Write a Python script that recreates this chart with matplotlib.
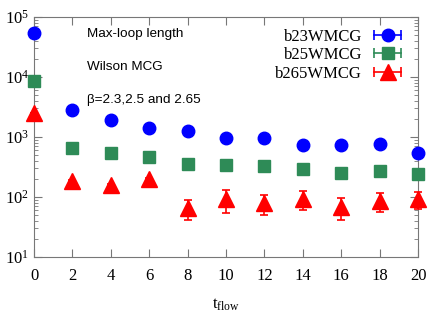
import numpy as np
import matplotlib
matplotlib.use('Agg')
import matplotlib.pyplot as plt
from matplotlib.lines import Line2D
from matplotlib.legend_handler import HandlerLine2D

plt.rcParams['font.family'] = 'Liberation Serif'
plt.rcParams['mathtext.fontset'] = 'custom'
plt.rcParams['mathtext.rm'] = 'Liberation Serif'
plt.rcParams['mathtext.it'] = 'Liberation Serif:italic'

# flow time
t_flow = [0, 2, 4, 6, 8, 10, 12, 14, 16, 18, 20]

# beta = 2.3
b23 = [54000, 2800, 1920, 1400, 1260, 960, 950, 730, 730, 760, 540]
b23_err = [0, 0, 0, 0, 0, 0, 0, 0, 0, 0, 0]
# beta = 2.5
b25 = [8600, 650, 540, 460, 360, 345, 330, 295, 250, 275, 240]
b25_err = [0, 0, 0, 0, 0, 0, 0, 0, 0, 0, 0]
# beta = 2.65
b265 = [2500, 185, 158, 200, 66, 93, 79, 93, 68, 86, 93]
b265_err = [0, 5, 5, 5, 24, 38, 28, 33, 27, 30, 30]

labels = ['b23WMCG', 'b25WMCG', 'b265WMCG']
colors = ['#0000ff', '#2e8b57', '#ff0000']
markers = ['o', 's', '^']
msizes = [9, 8, 11]

fig = plt.figure(figsize=(4.36, 3.27), dpi=100)
ax = fig.add_axes([0.078, 0.214, 0.881, 0.734])

handles = []
for y, e, lab, c, m, ms in zip([b23, b25, b265], [b23_err, b25_err, b265_err],
                               labels, colors, markers, msizes):
    eb = ax.errorbar(t_flow, y, yerr=e, fmt=m, color=c, ms=ms, mec=c,
                     elinewidth=1.2, capsize=3, capthick=1.2, zorder=3)
    for art in eb.get_children():
        art.set_clip_on(False)
    caps = Line2D([0], [0], color=c, lw=1.2, marker='|', ms=7, mew=1.2)
    mk = Line2D([0], [0], color=c, ls='none', marker=m, ms=ms)
    handles.append((caps, mk))

hmap = {}
for caps, mk in handles:
    hmap[caps] = HandlerLine2D(numpoints=2)
    hmap[mk] = HandlerLine2D(numpoints=1)
ax.legend(handles=handles, labels=labels, handler_map=hmap, loc='upper right',
          markerfirst=False, frameon=False, fontsize=12, handlelength=2.25,
          handletextpad=0.4, labelspacing=0.15, borderaxespad=0.3)

ax.set_yscale('log')
ax.set_xlim(0, 20)
ax.set_ylim(10, 1e5)
ax.set_xticks(range(0, 21, 2))
ax.tick_params(which='both', direction='in', top=True, right=True,
               colors='#777777', labelcolor='black', labelsize=12)
ax.tick_params(axis='x', which='minor', top=False, bottom=False)
ax.tick_params(which='major', length=6)
ax.tick_params(which='minor', length=3)
ax.tick_params(axis='x', pad=8)
for s in ax.spines.values():
    s.set_color('#777777')

ax.set_xlabel(r'$\mathregular{t_{flow}}$', fontsize=12, labelpad=9)

note_font = 'Liberation Sans'
ax.text(0.138, 0.93, 'Max-loop length', transform=ax.transAxes,
        family=note_font, fontsize=9.7, va='center')
ax.text(0.138, 0.79, 'Wilson MCG', transform=ax.transAxes,
        family=note_font, fontsize=9.7, va='center')
ax.text(0.138, 0.655, '\u03b2=2.3,2.5 and 2.65', transform=ax.transAxes,
        family=note_font, fontsize=9.7, va='center')

fig.savefig('out.png', dpi=100)
